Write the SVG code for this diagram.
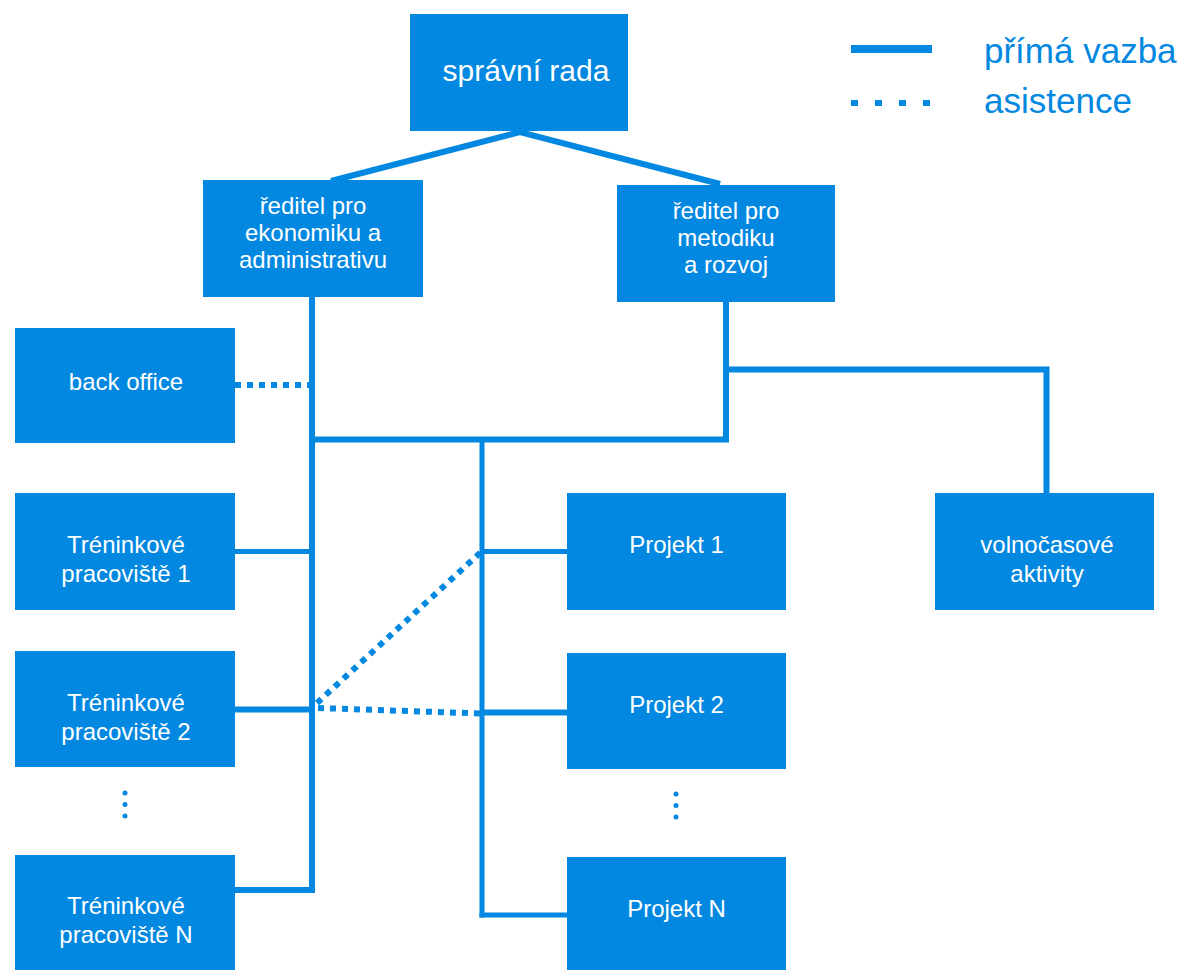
<svg xmlns="http://www.w3.org/2000/svg" width="1186" height="970" viewBox="0 0 1186 970">
<style>
.box{fill:#0288E0}
.t{font-family:"Liberation Sans",Arial,sans-serif;font-size:24px;fill:#fff;text-anchor:middle}
.ln{stroke:#0288E0;stroke-width:6;fill:none}
.thin{stroke:#0288E0;stroke-width:5;fill:none}
.dot{stroke:#0288E0;stroke-width:6;fill:none;stroke-dasharray:6 6}
.lg{font-family:"Liberation Sans",Arial,sans-serif;font-size:35px;fill:#0288E0}
.el{fill:#0288E0}
</style>
<rect width="1186" height="970" fill="#fff"/>
<g id="connectors">
<polyline class="ln" points="331,181 520,132 720,184"/>
<line class="ln" x1="312" y1="297" x2="312" y2="893"/>
<line class="ln" x1="309" y1="439.5" x2="729" y2="439.5"/>
<line class="ln" x1="726" y1="302" x2="726" y2="442"/>
<polyline class="ln" points="726,369.5 1046.5,369.5 1046.5,493"/>
<line class="thin" x1="482" y1="439" x2="482" y2="917.5"/>
<line class="thin" x1="235" y1="551.5" x2="312" y2="551.5"/>
<line class="ln" x1="235" y1="709.5" x2="312" y2="709.5"/>
<polyline class="ln" points="235,890 315,890"/>
<line class="thin" x1="482" y1="551.5" x2="567" y2="551.5"/>
<line class="ln" x1="482" y1="712.5" x2="567" y2="712.5"/>
<line class="thin" x1="479.5" y1="915" x2="567" y2="915"/>
<line class="dot" x1="235" y1="385" x2="310" y2="385"/>
<line class="dot" stroke-width="5" stroke-dasharray="5 5" x1="317" y1="703" x2="481" y2="552"/>
<line class="dot" x1="318" y1="708" x2="481" y2="713.5"/>
</g>
<g id="n-sprava"><rect class="box" x="410" y="14" width="218" height="117"/><text class="t" style="font-size:30px" x="526" y="81">správní rada</text></g>
<g id="n-reditel-ek"><rect class="box" x="203" y="180" width="220" height="117"/><text class="t" x="313" y="214">ředitel pro</text><text class="t" x="313" y="241">ekonomiku a</text><text class="t" x="313" y="268">administrativu</text></g>
<g id="n-reditel-met"><rect class="box" x="617" y="185" width="218" height="117"/><text class="t" x="726" y="219">ředitel pro</text><text class="t" x="726" y="246">metodiku</text><text class="t" x="726" y="273">a rozvoj</text></g>
<g id="n-back"><rect class="box" x="15" y="328" width="220" height="115"/><text class="t" x="126" y="390">back office</text></g>
<g id="n-t1"><rect class="box" x="15" y="493" width="220" height="117"/><text class="t" x="126" y="553">Tréninkové</text><text class="t" x="126" y="582">pracoviště 1</text></g>
<g id="n-t2"><rect class="box" x="15" y="651" width="220" height="116"/><text class="t" x="126" y="711">Tréninkové</text><text class="t" x="126" y="740">pracoviště 2</text></g>
<g id="n-tn"><rect class="box" x="15" y="855" width="220" height="116"/><text class="t" x="126" y="914">Tréninkové</text><text class="t" x="126" y="943">pracoviště N</text></g>
<g id="n-p1"><rect class="box" x="567" y="493" width="219" height="117"/><text class="t" x="676.5" y="553">Projekt 1</text></g>
<g id="n-p2"><rect class="box" x="567" y="653" width="219" height="116"/><text class="t" x="676.5" y="713">Projekt 2</text></g>
<g id="n-pn"><rect class="box" x="567" y="857" width="219" height="114"/><text class="t" x="676.5" y="917">Projekt N</text></g>
<g id="n-volno"><rect class="box" x="935" y="493" width="219" height="117"/><text class="t" x="1047" y="553">volnočasové</text><text class="t" x="1047" y="582">aktivity</text></g>
<g id="ellipsis-left"><circle class="el" cx="125" cy="793" r="2.5"/><circle class="el" cx="125" cy="804.5" r="2.5"/><circle class="el" cx="125" cy="816" r="2.5"/></g>
<g id="ellipsis-right"><circle class="el" cx="676" cy="794" r="2.5"/><circle class="el" cx="676" cy="805.5" r="2.5"/><circle class="el" cx="676" cy="817" r="2.5"/></g>
<g id="legend">
<line stroke="#0288E0" stroke-width="8" x1="851" y1="49" x2="932" y2="49"/>
<line stroke="#0288E0" stroke-width="6" stroke-dasharray="7 17" x1="851" y1="103" x2="932" y2="103"/>
<text class="lg" x="984" y="63">přímá vazba</text>
<text class="lg" x="984" y="113">asistence</text>
</g>
</svg>
